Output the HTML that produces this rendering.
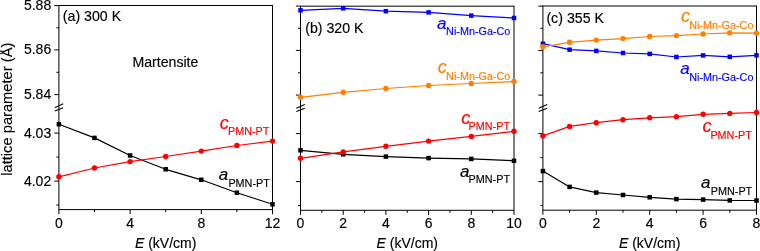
<!DOCTYPE html><html><head><meta charset="utf-8"><title>lattice parameter vs E</title><style>
html,body{margin:0;padding:0;background:#fff;width:760px;height:251px;overflow:hidden}
svg{display:block;will-change:transform}
text{font-family:"Liberation Sans", sans-serif;stroke-width:0.15px}
</style></head><body>
<svg width="760" height="251" viewBox="0 0 760 251">
<rect width="760" height="251" fill="#fff"/>
<rect x="58.9" y="5.5" width="213.6" height="204.1" fill="none" stroke="#000000" stroke-width="1.0"/>
<line x1="54.3" y1="5.6" x2="58.9" y2="5.6" stroke="#000000" stroke-width="1.0"/>
<line x1="54.3" y1="49.9" x2="58.9" y2="49.9" stroke="#000000" stroke-width="1.0"/>
<line x1="54.3" y1="94.6" x2="58.9" y2="94.6" stroke="#000000" stroke-width="1.0"/>
<line x1="54.3" y1="133.1" x2="58.9" y2="133.1" stroke="#000000" stroke-width="1.0"/>
<line x1="54.3" y1="181.1" x2="58.9" y2="181.1" stroke="#000000" stroke-width="1.0"/>
<line x1="56.4" y1="27.8" x2="58.9" y2="27.8" stroke="#000000" stroke-width="1.0"/>
<line x1="56.4" y1="72.3" x2="58.9" y2="72.3" stroke="#000000" stroke-width="1.0"/>
<line x1="56.4" y1="157.1" x2="58.9" y2="157.1" stroke="#000000" stroke-width="1.0"/>
<line x1="56.4" y1="205" x2="58.9" y2="205" stroke="#000000" stroke-width="1.0"/>
<line x1="58.9" y1="209.6" x2="58.9" y2="214.2" stroke="#000000" stroke-width="1.0"/>
<text x="58.9" y="228" font-size="14" text-anchor="middle" fill="#000" stroke="#000">0</text>
<line x1="130.1" y1="209.6" x2="130.1" y2="214.2" stroke="#000000" stroke-width="1.0"/>
<text x="130.1" y="228" font-size="14" text-anchor="middle" fill="#000" stroke="#000">4</text>
<line x1="201.3" y1="209.6" x2="201.3" y2="214.2" stroke="#000000" stroke-width="1.0"/>
<text x="201.3" y="228" font-size="14" text-anchor="middle" fill="#000" stroke="#000">8</text>
<line x1="272.5" y1="209.6" x2="272.5" y2="214.2" stroke="#000000" stroke-width="1.0"/>
<text x="272.5" y="228" font-size="14" text-anchor="middle" fill="#000" stroke="#000">12</text>
<line x1="94.5" y1="209.6" x2="94.5" y2="212.1" stroke="#000000" stroke-width="1.0"/>
<line x1="165.7" y1="209.6" x2="165.7" y2="212.1" stroke="#000000" stroke-width="1.0"/>
<line x1="236.9" y1="209.6" x2="236.9" y2="212.1" stroke="#000000" stroke-width="1.0"/>
<line x1="54.7" y1="107.65" x2="63.2" y2="103.85" stroke="#000000" stroke-width="1.1"/>
<line x1="54.7" y1="110.95" x2="63.2" y2="107.65" stroke="#000000" stroke-width="1.1"/>
<polyline points="58.9,124.2 94.5,137.9 130.1,155.5 165.7,169.3 201.3,179.8 236.9,192.7 272.5,204.3" fill="none" stroke="#000000" stroke-width="1.2" stroke-linejoin="round"/>
<rect x="56.65" y="121.95" width="4.5" height="4.5" fill="#000000"/>
<rect x="92.25" y="135.65" width="4.5" height="4.5" fill="#000000"/>
<rect x="127.85" y="153.25" width="4.5" height="4.5" fill="#000000"/>
<rect x="163.45" y="167.05" width="4.5" height="4.5" fill="#000000"/>
<rect x="199.05" y="177.55" width="4.5" height="4.5" fill="#000000"/>
<rect x="234.65" y="190.45" width="4.5" height="4.5" fill="#000000"/>
<rect x="270.25" y="202.05" width="4.5" height="4.5" fill="#000000"/>
<polyline points="58.9,176.8 94.5,168 130.1,161.6 165.7,156.5 201.3,151.1 236.9,145.5 272.5,141.1" fill="none" stroke="#ff0000" stroke-width="1.2" stroke-linejoin="round"/>
<circle cx="58.9" cy="176.8" r="2.7" fill="#ff0000"/>
<circle cx="94.5" cy="168" r="2.7" fill="#ff0000"/>
<circle cx="130.1" cy="161.6" r="2.7" fill="#ff0000"/>
<circle cx="165.7" cy="156.5" r="2.7" fill="#ff0000"/>
<circle cx="201.3" cy="151.1" r="2.7" fill="#ff0000"/>
<circle cx="236.9" cy="145.5" r="2.7" fill="#ff0000"/>
<circle cx="272.5" cy="141.1" r="2.7" fill="#ff0000"/>
<text x="165.7" y="247.6" font-size="14" text-anchor="middle" fill="#000" stroke="#000"><tspan font-style="italic">E</tspan> (kV/cm)</text>
<rect x="300.5" y="6.2" width="213.5" height="204.1" fill="none" stroke="#000000" stroke-width="1.0"/>
<line x1="295.9" y1="6.1" x2="300.5" y2="6.1" stroke="#000000" stroke-width="1.0"/>
<line x1="295.9" y1="50.4" x2="300.5" y2="50.4" stroke="#000000" stroke-width="1.0"/>
<line x1="295.9" y1="95.1" x2="300.5" y2="95.1" stroke="#000000" stroke-width="1.0"/>
<line x1="295.9" y1="133.6" x2="300.5" y2="133.6" stroke="#000000" stroke-width="1.0"/>
<line x1="295.9" y1="181.6" x2="300.5" y2="181.6" stroke="#000000" stroke-width="1.0"/>
<line x1="298" y1="28.3" x2="300.5" y2="28.3" stroke="#000000" stroke-width="1.0"/>
<line x1="298" y1="72.8" x2="300.5" y2="72.8" stroke="#000000" stroke-width="1.0"/>
<line x1="298" y1="157.6" x2="300.5" y2="157.6" stroke="#000000" stroke-width="1.0"/>
<line x1="298" y1="205.5" x2="300.5" y2="205.5" stroke="#000000" stroke-width="1.0"/>
<line x1="300.5" y1="210.3" x2="300.5" y2="214.9" stroke="#000000" stroke-width="1.0"/>
<text x="300.5" y="228" font-size="14" text-anchor="middle" fill="#000" stroke="#000">0</text>
<line x1="343.2" y1="210.3" x2="343.2" y2="214.9" stroke="#000000" stroke-width="1.0"/>
<text x="343.2" y="228" font-size="14" text-anchor="middle" fill="#000" stroke="#000">2</text>
<line x1="385.9" y1="210.3" x2="385.9" y2="214.9" stroke="#000000" stroke-width="1.0"/>
<text x="385.9" y="228" font-size="14" text-anchor="middle" fill="#000" stroke="#000">4</text>
<line x1="428.6" y1="210.3" x2="428.6" y2="214.9" stroke="#000000" stroke-width="1.0"/>
<text x="428.6" y="228" font-size="14" text-anchor="middle" fill="#000" stroke="#000">6</text>
<line x1="471.3" y1="210.3" x2="471.3" y2="214.9" stroke="#000000" stroke-width="1.0"/>
<text x="471.3" y="228" font-size="14" text-anchor="middle" fill="#000" stroke="#000">8</text>
<line x1="514" y1="210.3" x2="514" y2="214.9" stroke="#000000" stroke-width="1.0"/>
<text x="514" y="228" font-size="14" text-anchor="middle" fill="#000" stroke="#000">10</text>
<line x1="321.85" y1="210.3" x2="321.85" y2="212.8" stroke="#000000" stroke-width="1.0"/>
<line x1="364.55" y1="210.3" x2="364.55" y2="212.8" stroke="#000000" stroke-width="1.0"/>
<line x1="407.25" y1="210.3" x2="407.25" y2="212.8" stroke="#000000" stroke-width="1.0"/>
<line x1="449.95" y1="210.3" x2="449.95" y2="212.8" stroke="#000000" stroke-width="1.0"/>
<line x1="492.65" y1="210.3" x2="492.65" y2="212.8" stroke="#000000" stroke-width="1.0"/>
<line x1="296.3" y1="108.3" x2="304.8" y2="104.5" stroke="#000000" stroke-width="1.1"/>
<line x1="296.3" y1="111.6" x2="304.8" y2="108.3" stroke="#000000" stroke-width="1.1"/>
<polyline points="300.5,10.3 343.2,8.3 385.9,11.2 428.6,12.4 471.3,15.6 514,18" fill="none" stroke="#0000ff" stroke-width="1.2" stroke-linejoin="round"/>
<rect x="298.25" y="8.05" width="4.5" height="4.5" fill="#0000ff"/>
<rect x="340.95" y="6.05" width="4.5" height="4.5" fill="#0000ff"/>
<rect x="383.65" y="8.95" width="4.5" height="4.5" fill="#0000ff"/>
<rect x="426.35" y="10.15" width="4.5" height="4.5" fill="#0000ff"/>
<rect x="469.05" y="13.35" width="4.5" height="4.5" fill="#0000ff"/>
<rect x="511.75" y="15.75" width="4.5" height="4.5" fill="#0000ff"/>
<polyline points="300.5,97.3 343.2,92.3 385.9,88.5 428.6,85.5 471.3,83.5 514,81.5" fill="none" stroke="#ff7f00" stroke-width="1.2" stroke-linejoin="round"/>
<circle cx="300.5" cy="97.3" r="2.7" fill="#ff7f00"/>
<circle cx="343.2" cy="92.3" r="2.7" fill="#ff7f00"/>
<circle cx="385.9" cy="88.5" r="2.7" fill="#ff7f00"/>
<circle cx="428.6" cy="85.5" r="2.7" fill="#ff7f00"/>
<circle cx="471.3" cy="83.5" r="2.7" fill="#ff7f00"/>
<circle cx="514" cy="81.5" r="2.7" fill="#ff7f00"/>
<polyline points="300.5,150.3 343.2,154.3 385.9,156.6 428.6,158.1 471.3,158.9 514,160.8" fill="none" stroke="#000000" stroke-width="1.2" stroke-linejoin="round"/>
<rect x="298.25" y="148.05" width="4.5" height="4.5" fill="#000000"/>
<rect x="340.95" y="152.05" width="4.5" height="4.5" fill="#000000"/>
<rect x="383.65" y="154.35" width="4.5" height="4.5" fill="#000000"/>
<rect x="426.35" y="155.85" width="4.5" height="4.5" fill="#000000"/>
<rect x="469.05" y="156.65" width="4.5" height="4.5" fill="#000000"/>
<rect x="511.75" y="158.55" width="4.5" height="4.5" fill="#000000"/>
<polyline points="300.5,158.3 343.2,151.9 385.9,146.3 428.6,141.1 471.3,136.4 514,131.3" fill="none" stroke="#ff0000" stroke-width="1.2" stroke-linejoin="round"/>
<circle cx="300.5" cy="158.3" r="2.7" fill="#ff0000"/>
<circle cx="343.2" cy="151.9" r="2.7" fill="#ff0000"/>
<circle cx="385.9" cy="146.3" r="2.7" fill="#ff0000"/>
<circle cx="428.6" cy="141.1" r="2.7" fill="#ff0000"/>
<circle cx="471.3" cy="136.4" r="2.7" fill="#ff0000"/>
<circle cx="514" cy="131.3" r="2.7" fill="#ff0000"/>
<text x="407.25" y="247.6" font-size="14" text-anchor="middle" fill="#000" stroke="#000"><tspan font-style="italic">E</tspan> (kV/cm)</text>
<rect x="542.9" y="6" width="213.6" height="204.2" fill="none" stroke="#000000" stroke-width="1.0"/>
<line x1="538.3" y1="6.1" x2="542.9" y2="6.1" stroke="#000000" stroke-width="1.0"/>
<line x1="538.3" y1="50.4" x2="542.9" y2="50.4" stroke="#000000" stroke-width="1.0"/>
<line x1="538.3" y1="95.1" x2="542.9" y2="95.1" stroke="#000000" stroke-width="1.0"/>
<line x1="538.3" y1="133.6" x2="542.9" y2="133.6" stroke="#000000" stroke-width="1.0"/>
<line x1="538.3" y1="181.6" x2="542.9" y2="181.6" stroke="#000000" stroke-width="1.0"/>
<line x1="540.4" y1="28.3" x2="542.9" y2="28.3" stroke="#000000" stroke-width="1.0"/>
<line x1="540.4" y1="72.8" x2="542.9" y2="72.8" stroke="#000000" stroke-width="1.0"/>
<line x1="540.4" y1="157.6" x2="542.9" y2="157.6" stroke="#000000" stroke-width="1.0"/>
<line x1="540.4" y1="205.5" x2="542.9" y2="205.5" stroke="#000000" stroke-width="1.0"/>
<line x1="542.9" y1="210.2" x2="542.9" y2="214.8" stroke="#000000" stroke-width="1.0"/>
<text x="542.9" y="228" font-size="14" text-anchor="middle" fill="#000" stroke="#000">0</text>
<line x1="596.3" y1="210.2" x2="596.3" y2="214.8" stroke="#000000" stroke-width="1.0"/>
<text x="596.3" y="228" font-size="14" text-anchor="middle" fill="#000" stroke="#000">2</text>
<line x1="649.7" y1="210.2" x2="649.7" y2="214.8" stroke="#000000" stroke-width="1.0"/>
<text x="649.7" y="228" font-size="14" text-anchor="middle" fill="#000" stroke="#000">4</text>
<line x1="703.1" y1="210.2" x2="703.1" y2="214.8" stroke="#000000" stroke-width="1.0"/>
<text x="703.1" y="228" font-size="14" text-anchor="middle" fill="#000" stroke="#000">6</text>
<line x1="756.5" y1="210.2" x2="756.5" y2="214.8" stroke="#000000" stroke-width="1.0"/>
<text x="756.5" y="228" font-size="14" text-anchor="middle" fill="#000" stroke="#000">8</text>
<line x1="569.6" y1="210.2" x2="569.6" y2="212.7" stroke="#000000" stroke-width="1.0"/>
<line x1="623" y1="210.2" x2="623" y2="212.7" stroke="#000000" stroke-width="1.0"/>
<line x1="676.4" y1="210.2" x2="676.4" y2="212.7" stroke="#000000" stroke-width="1.0"/>
<line x1="729.8" y1="210.2" x2="729.8" y2="212.7" stroke="#000000" stroke-width="1.0"/>
<line x1="538.7" y1="108.3" x2="547.2" y2="104.5" stroke="#000000" stroke-width="1.1"/>
<line x1="538.7" y1="111.6" x2="547.2" y2="108.3" stroke="#000000" stroke-width="1.1"/>
<polyline points="542.9,43.7 569.6,49.7 596.3,50.9 623,53 649.7,53.9 676.4,57 703.1,55.4 729.8,56.8 756.5,55.3" fill="none" stroke="#0000ff" stroke-width="1.2" stroke-linejoin="round"/>
<rect x="540.65" y="41.45" width="4.5" height="4.5" fill="#0000ff"/>
<rect x="567.35" y="47.45" width="4.5" height="4.5" fill="#0000ff"/>
<rect x="594.05" y="48.65" width="4.5" height="4.5" fill="#0000ff"/>
<rect x="620.75" y="50.75" width="4.5" height="4.5" fill="#0000ff"/>
<rect x="647.45" y="51.65" width="4.5" height="4.5" fill="#0000ff"/>
<rect x="674.15" y="54.75" width="4.5" height="4.5" fill="#0000ff"/>
<rect x="700.85" y="53.15" width="4.5" height="4.5" fill="#0000ff"/>
<rect x="727.55" y="54.55" width="4.5" height="4.5" fill="#0000ff"/>
<rect x="754.25" y="53.05" width="4.5" height="4.5" fill="#0000ff"/>
<polyline points="542.9,46.8 569.6,42.3 596.3,40.1 623,38.6 649.7,36.5 676.4,35.6 703.1,34 729.8,32.9 756.5,33.1" fill="none" stroke="#ff7f00" stroke-width="1.2" stroke-linejoin="round"/>
<circle cx="542.9" cy="46.8" r="2.7" fill="#ff7f00"/>
<circle cx="569.6" cy="42.3" r="2.7" fill="#ff7f00"/>
<circle cx="596.3" cy="40.1" r="2.7" fill="#ff7f00"/>
<circle cx="623" cy="38.6" r="2.7" fill="#ff7f00"/>
<circle cx="649.7" cy="36.5" r="2.7" fill="#ff7f00"/>
<circle cx="676.4" cy="35.6" r="2.7" fill="#ff7f00"/>
<circle cx="703.1" cy="34" r="2.7" fill="#ff7f00"/>
<circle cx="729.8" cy="32.9" r="2.7" fill="#ff7f00"/>
<circle cx="756.5" cy="33.1" r="2.7" fill="#ff7f00"/>
<polyline points="542.9,135.9 569.6,126.4 596.3,122.7 623,119.7 649.7,117.8 676.4,116.7 703.1,114.3 729.8,113.4 756.5,112.5" fill="none" stroke="#ff0000" stroke-width="1.2" stroke-linejoin="round"/>
<circle cx="542.9" cy="135.9" r="2.7" fill="#ff0000"/>
<circle cx="569.6" cy="126.4" r="2.7" fill="#ff0000"/>
<circle cx="596.3" cy="122.7" r="2.7" fill="#ff0000"/>
<circle cx="623" cy="119.7" r="2.7" fill="#ff0000"/>
<circle cx="649.7" cy="117.8" r="2.7" fill="#ff0000"/>
<circle cx="676.4" cy="116.7" r="2.7" fill="#ff0000"/>
<circle cx="703.1" cy="114.3" r="2.7" fill="#ff0000"/>
<circle cx="729.8" cy="113.4" r="2.7" fill="#ff0000"/>
<circle cx="756.5" cy="112.5" r="2.7" fill="#ff0000"/>
<polyline points="542.9,171.1 569.6,186.9 596.3,192.6 623,195 649.7,197.3 676.4,199.1 703.1,199.6 729.8,200.4 756.5,200.5" fill="none" stroke="#000000" stroke-width="1.2" stroke-linejoin="round"/>
<rect x="540.65" y="168.85" width="4.5" height="4.5" fill="#000000"/>
<rect x="567.35" y="184.65" width="4.5" height="4.5" fill="#000000"/>
<rect x="594.05" y="190.35" width="4.5" height="4.5" fill="#000000"/>
<rect x="620.75" y="192.75" width="4.5" height="4.5" fill="#000000"/>
<rect x="647.45" y="195.05" width="4.5" height="4.5" fill="#000000"/>
<rect x="674.15" y="196.85" width="4.5" height="4.5" fill="#000000"/>
<rect x="700.85" y="197.35" width="4.5" height="4.5" fill="#000000"/>
<rect x="727.55" y="198.15" width="4.5" height="4.5" fill="#000000"/>
<rect x="754.25" y="198.25" width="4.5" height="4.5" fill="#000000"/>
<text x="649.7" y="247.6" font-size="14" text-anchor="middle" fill="#000" stroke="#000"><tspan font-style="italic">E</tspan> (kV/cm)</text>
<text x="51.2" y="10" font-size="14" text-anchor="end" fill="#000" stroke="#000">5.88</text>
<text x="51.2" y="54.3" font-size="14" text-anchor="end" fill="#000" stroke="#000">5.86</text>
<text x="51.2" y="99" font-size="14" text-anchor="end" fill="#000" stroke="#000">5.84</text>
<text x="51.2" y="137.5" font-size="14" text-anchor="end" fill="#000" stroke="#000">4.03</text>
<text x="51.2" y="185.5" font-size="14" text-anchor="end" fill="#000" stroke="#000">4.02</text>
<text transform="translate(12,109.2) rotate(-90)" font-size="14.7" text-anchor="middle" fill="#000" stroke="#000">lattice parameter (Å)</text>
<text x="62.8" y="21.2" font-size="14.2" fill="#000" stroke="#000">(a) 300 K</text>
<text x="305.2" y="32.7" font-size="14.2" fill="#000" stroke="#000">(b) 320 K</text>
<text x="546.4" y="22.6" font-size="14.2" fill="#000" stroke="#000">(c) 355 K</text>
<text x="132.4" y="67.1" font-size="14.15" fill="#000" stroke="#000">Martensite</text>
<text x="219.7" y="129.1" font-size="18" font-style="italic" fill="#ff0000" stroke="#ff0000">c</text>
<text x="269.4" y="134.9" font-size="10.8" text-anchor="end" fill="#ff0000" stroke="#ff0000">PMN-PT</text>
<text x="218.7" y="179.7" font-size="17" font-style="italic" fill="#000000" stroke="#000000">a</text>
<text x="269.8" y="186.7" font-size="10.8" text-anchor="end" fill="#000000" stroke="#000000">PMN-PT</text>
<text x="436.9" y="28.7" font-size="17" font-style="italic" fill="#0000ff" stroke="#0000ff">a</text>
<text x="510.3" y="35.4" font-size="10.8" text-anchor="end" fill="#0000ff" stroke="#0000ff">Ni-Mn-Ga-Co</text>
<text x="437.7" y="73.1" font-size="18" font-style="italic" fill="#ff7f00" stroke="#ff7f00">c</text>
<text x="510.3" y="79.7" font-size="10.8" text-anchor="end" fill="#ff7f00" stroke="#ff7f00">Ni-Mn-Ga-Co</text>
<text x="461.2" y="124.1" font-size="18" font-style="italic" fill="#ff0000" stroke="#ff0000">c</text>
<text x="510" y="130.3" font-size="10.8" text-anchor="end" fill="#ff0000" stroke="#ff0000">PMN-PT</text>
<text x="459.9" y="177.1" font-size="17" font-style="italic" fill="#000000" stroke="#000000">a</text>
<text x="510" y="183.1" font-size="10.8" text-anchor="end" fill="#000000" stroke="#000000">PMN-PT</text>
<text x="680.9" y="22.1" font-size="18" font-style="italic" fill="#ff7f00" stroke="#ff7f00">c</text>
<text x="753.4" y="28.8" font-size="10.8" text-anchor="end" fill="#ff7f00" stroke="#ff7f00">Ni-Mn-Ga-Co</text>
<text x="680.2" y="73.9" font-size="17" font-style="italic" fill="#0000ff" stroke="#0000ff">a</text>
<text x="753.4" y="80.7" font-size="10.8" text-anchor="end" fill="#0000ff" stroke="#0000ff">Ni-Mn-Ga-Co</text>
<text x="702.6" y="132.3" font-size="18" font-style="italic" fill="#ff0000" stroke="#ff0000">c</text>
<text x="751.8" y="138.7" font-size="10.8" text-anchor="end" fill="#ff0000" stroke="#ff0000">PMN-PT</text>
<text x="701.1" y="188.3" font-size="17" font-style="italic" fill="#000000" stroke="#000000">a</text>
<text x="752.2" y="195" font-size="10.8" text-anchor="end" fill="#000000" stroke="#000000">PMN-PT</text>
</svg></body></html>
